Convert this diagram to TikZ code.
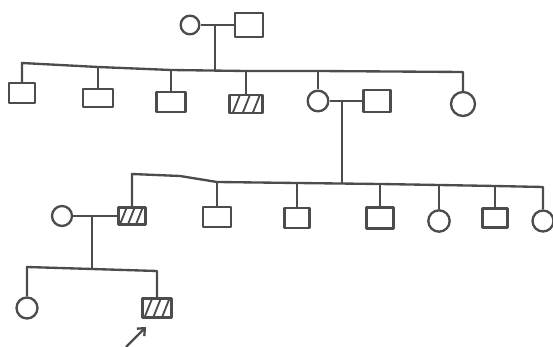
\documentclass[tikz,border=0pt]{standalone}
\usepackage{tikz}
\usetikzlibrary{arrows.meta,calc}

\begin{document}
\begin{tikzpicture}[
    x=0.03cm, y=-0.03cm,
    color=black!70, line width=2pt, line join=round,
    male/.style={draw, rectangle, inner sep=0pt, minimum width=0.8cm, minimum height=0.6cm},
    female/.style={draw, circle, inner sep=0pt, minimum size=0.6cm},
    affected/.style={male, path picture={
        \foreach \t in {0.3,0.6,0.9}
            \draw[line width=1.6pt] ($(path picture bounding box.south west)!\t!(path picture bounding box.south east)+(-2mm,0)$) -- ++(2.6mm,6.5mm);}},
    proband/.style={-{Straight Barb[length=5pt,width=9pt]}}
]
\useasboundingbox (0,0) rectangle (553,347);

% generation I
\node[female, minimum size=0.56cm] (f1) at (190,25) {};
\node[male, minimum width=0.84cm, minimum height=0.72cm] (m1) at (249,25) {};
\draw (f1) -- (m1);
\coordinate (d1) at (215,25);

% generation II
\node[male, minimum width=0.78cm] (ii1) at (22,93) {};
\node[male, minimum width=0.9cm, minimum height=0.55cm] (ii2) at (98,98) {};
\node[male, minimum width=0.87cm] (ii3) at (171,102) {};
\node[affected, minimum width=1cm, minimum height=0.55cm] (ii4) at (246,104) {};
\node[female, minimum size=0.62cm] (ii5) at (318,101) {};
\node[male, minimum height=0.66cm] (ii6) at (377,101) {};
\node[female, minimum size=0.72cm] (ii7) at (463,104) {};
\coordinate (t1) at (22,63);
\coordinate (t2) at (98,67);
\coordinate (t3) at (171,70);
\coordinate (t4) at (246,71);
\coordinate (t5) at (318,71);
\coordinate (t6) at (463,72);
\coordinate (j1) at (215,71);
\draw (d1) -- (j1);
\draw (ii1) -- (t1) -- (t2) -- (t3) -- (t4) -- (t5) -- (t6) -- (ii7);
\foreach \c/\k in {ii2/t2,ii3/t3,ii4/t4,ii5/t5}
    \draw (\k) -- (\c);
\draw (ii5) -- (ii6);
\coordinate (d2) at (342,101);

% generation III
\node[female] (iii0) at (62,216) {};
\node[affected, minimum height=0.5cm] (iii1) at (132,216) {};
\node[male, minimum width=0.84cm] (iii2) at (217,217) {};
\node[male, minimum width=0.75cm] (iii3) at (297,218) {};
\node[male, minimum height=0.63cm] (iii4) at (380,218) {};
\node[female, minimum size=0.64cm] (iii5) at (439,221) {};
\node[male, minimum width=0.75cm, minimum height=0.57cm] (iii6) at (495,218) {};
\node[female, minimum size=0.63cm] (iii7) at (543,221) {};
\coordinate (u1) at (132,174);
\coordinate (u0) at (180,176);
\coordinate (u2) at (217,182);
\coordinate (u3) at (297,183);
\coordinate (j2) at (342,183);
\coordinate (u4) at (380,184);
\coordinate (u5) at (439,185);
\coordinate (u6) at (495,186);
\coordinate (u7) at (543,187);
\draw (d2) -- (j2);
\draw (iii1) -- (u1) -- (u0) -- (u2) -- (u3) -- (u4) -- (u5) -- (u6) -- (u7) -- (iii7);
\foreach \c/\k in {iii2/u2,iii3/u3,iii4/u4,iii5/u5,iii6/u6}
    \draw (\k) -- (\c);
\draw (iii0) -- (iii1);
\coordinate (d3) at (92,216);

% generation IV
\node[female, minimum size=0.63cm] (iv1) at (27,308) {};
\node[affected, minimum width=0.87cm, minimum height=0.57cm] (iv2) at (157,308) {};
\coordinate (v1) at (27,267);
\coordinate (j3) at (92,269);
\coordinate (v2) at (157,271);
\draw (d3) -- (j3);
\draw (iv1) -- (v1) -- (v2) -- (iv2);
\coordinate (pb) at (126,347);
\coordinate (pt) at (146,327);
\draw[proband] (pb) -- (pt);
\end{tikzpicture}
\end{document}
